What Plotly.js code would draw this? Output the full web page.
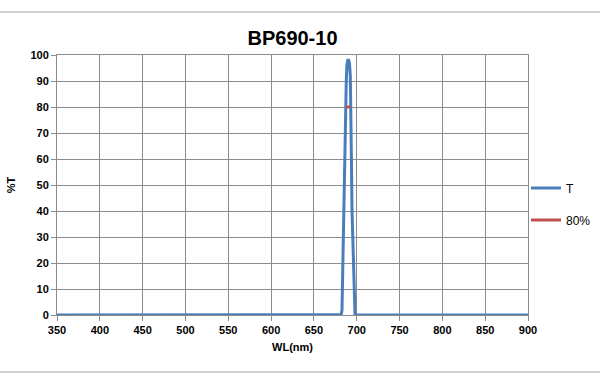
<!DOCTYPE html>
<html>
<head>
<meta charset="utf-8">
<script src="https://cdn.plot.ly/plotly-3.0.1.min.js"></script>
<style>html,body{margin:0;padding:0;background:#fff;}#chart{width:600px;height:383px;}</style>
</head>
<body>
<div id="chart"></div>
<script>
var wl = [350, 400, 450, 500, 550, 600, 650, 670, 680, 682, 682.8, 683.2, 684, 685, 686.3, 687, 687.8, 688.5, 689.5, 690.5, 691.5, 692.5, 693.3, 693.8, 694.5, 695.5, 696.5, 697, 698, 700, 750, 800, 810, 820, 830, 840, 850, 900];
var T  = [0, 0, 0, 0, 0, 0, 0, 0, 0, 0.2, 2, 10, 25, 40, 55, 75, 90, 96, 98, 98, 97, 92, 80, 60, 40, 25, 10, 2, 0.2, 0, 0, 0, 0.1, 0.2, 0.2, 0.1, 0, 0];
var wl80 = [687.6, 692.6];
var T80 = [80, 80];
var xTicks = [350, 400, 450, 500, 550, 600, 650, 700, 750, 800, 850, 900];
var yTicks = [0, 10, 20, 30, 40, 50, 60, 70, 80, 90, 100];

var font = 'Liberation Sans, Arial, sans-serif';
var data = [
  {x: wl, y: T, name: 'T', mode: 'lines', line: {color: '#4A7EBB', width: 3}, legendgroup: 'a'},
  {x: wl80, y: T80, name: '80%', mode: 'lines', line: {color: '#C0504D', width: 3}, legendgroup: 'b'}
];
var gray = '#8c8c8c';
var layout = {
  width: 600, height: 383,
  margin: {l: 57, r: 72, t: 55, b: 68, autoexpand: false},
  paper_bgcolor: '#fff', plot_bgcolor: '#fff',
  title: {text: '<b>BP690-10</b>', font: {family: font, size: 20, color: '#000'}, x: 0.5, xref: 'paper', y: 0.9, yanchor: 'middle'},
  xaxis: {
    range: [350, 900], tickvals: xTicks, ticktext: xTicks.map(String),
    showgrid: true, gridcolor: gray, gridwidth: 1,
    showline: true, linecolor: gray, mirror: true,
    ticks: 'outside', ticklen: 5, tickcolor: gray,
    tickfont: {family: font, size: 11, color: '#000', weight: 'bold'},
    title: {text: '<b>WL(nm)</b>', font: {family: font, size: 11, color: '#000'}, standoff: 8},
    zeroline: false
  },
  yaxis: {
    range: [0, 100], tickvals: yTicks, ticktext: yTicks.map(String),
    showgrid: true, gridcolor: gray, gridwidth: 1,
    showline: true, linecolor: gray, mirror: true,
    ticks: 'outside', ticklen: 5, tickcolor: gray,
    tickfont: {family: font, size: 11, color: '#000', weight: 'bold'},
    title: {text: '<b>%T</b>', font: {family: font, size: 11, color: '#000'}, standoff: 12},
    zeroline: false
  },
  showlegend: true,
  legend: {xref: 'container', yref: 'container', x: 526/600, xanchor: 'left', y: 1 - 204/383, yanchor: 'middle',
           traceorder: 'grouped', tracegroupgap: 13,
           font: {family: font, size: 12, color: '#000'}, itemwidth: 30, bgcolor: 'rgba(0,0,0,0)'},
  shapes: [
    {type: 'line', xref: 'paper', yref: 'paper', x0: -57/471, x1: 543/471, y0: (315-12)/260, y1: (315-12)/260, line: {color: '#a6a6a6', width: 1}},
    {type: 'line', xref: 'paper', yref: 'paper', x0: -57/471, x1: 543/471, y0: (315-372)/260, y1: (315-372)/260, line: {color: '#a6a6a6', width: 1}}
  ]
};
Plotly.newPlot('chart', data, layout, {displayModeBar: false, staticPlot: true});
</script>
</body>
</html>
